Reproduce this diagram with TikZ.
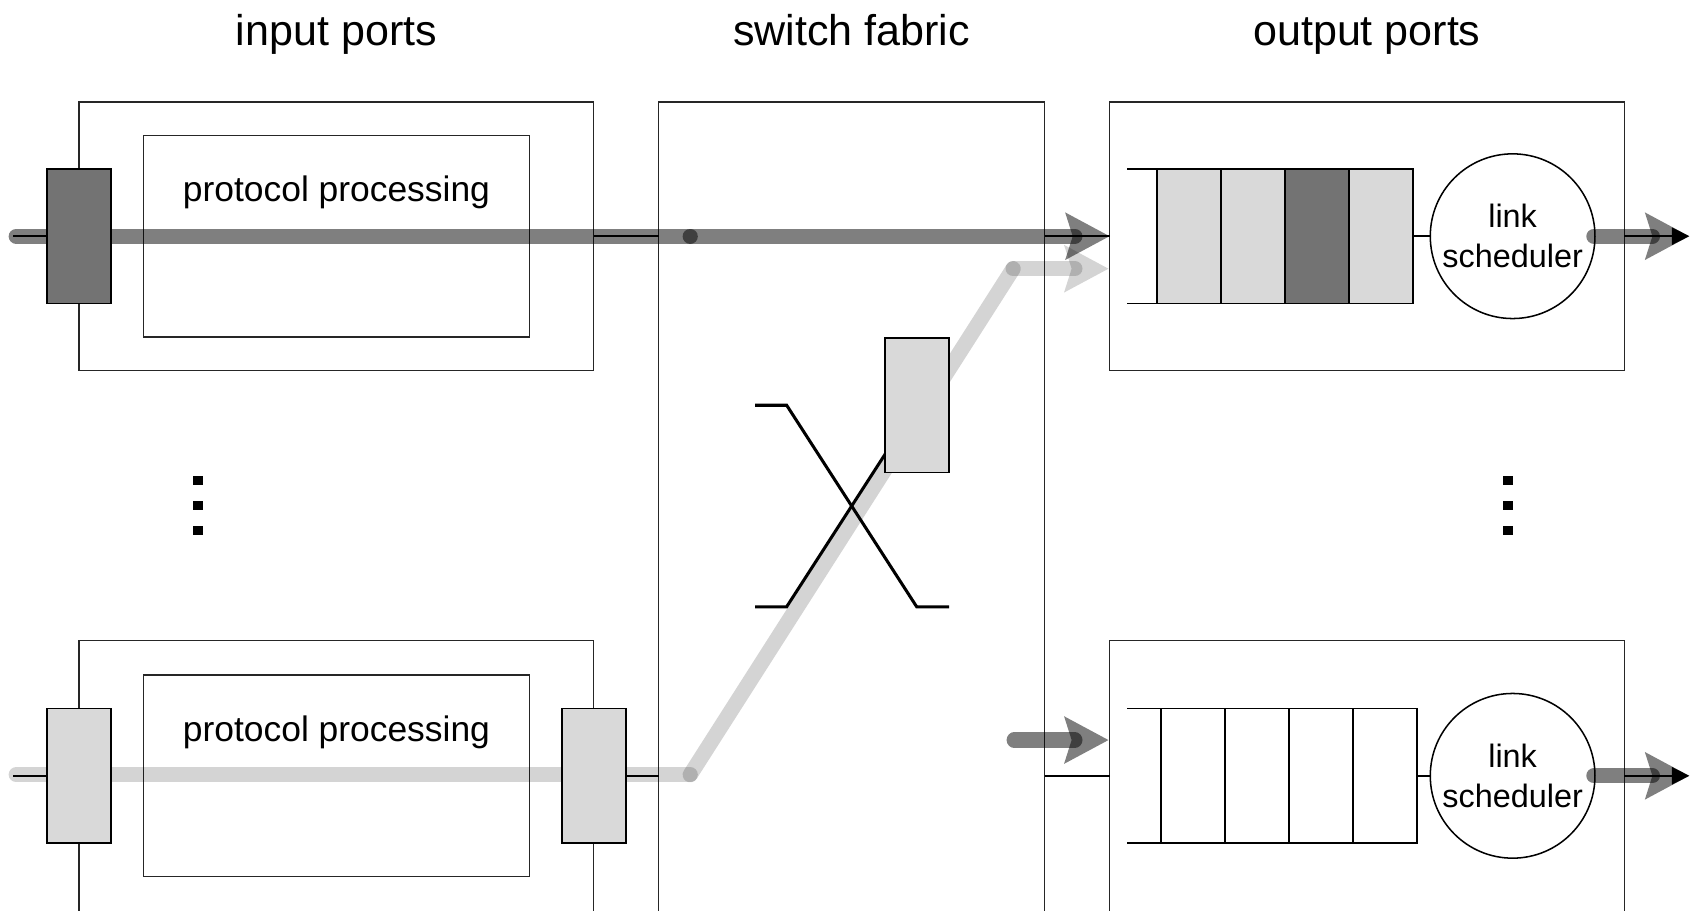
\documentclass[tikz,border=0pt]{standalone}
\usepackage{fontspec}
\setmainfont{Liberation Sans}
\usetikzlibrary{positioning,arrows.meta}

\definecolor{pktdark}{gray}{0.45}
\definecolor{pktlight}{gray}{0.85}

\begin{document}
\begin{tikzpicture}[x  = {(0.1mm,0mm)},
                    y  = {(0mm,-0.1mm)},
                    box/.style   = {draw=black!85, line width=0.35pt, inner sep=0pt, outer sep=0pt},
                    port/.style  = {draw, line width=0.45pt, inner sep=0pt, outer sep=0pt,
                                    minimum width=5.9mm, minimum height=12.4mm},
                    wire/.style  = {line width=0.4pt},
                    xbar/.style  = {line width=0.8pt},
                    heavy/.style = {line width=4pt, line cap=round, draw=black, draw opacity=0.5},
                    pale/.style  = {line width=4pt, line cap=round, draw=black, draw opacity=0.17},
                    heavyhead/.style = {fill=black, fill opacity=0.5},
                    palehead/.style  = {fill=black, fill opacity=0.17},
                    title/.style = {anchor=base, font=\fontsize{11.3}{13}\selectfont},
                    ptext/.style = {anchor=base, font=\fontsize{9.3}{11}\selectfont},
                    sched/.style = {draw, circle, line width=0.4pt, inner sep=0pt, minimum size=15.2mm,
                                    align=center, font=\fontsize{8.5}{10.5}\selectfont}]
\useasboundingbox (0,0) rectangle (1568,840);
\clip (0,0) rectangle (1568,840);

\node[title] (tin)  at (310.5,42) {input ports};
\node[title] (tsw)  at (786,42)   {switch fabric};
\node[title] (tout) at (1261.5,42) {output ports};

% input side
\node[box, minimum width=47.5mm, minimum height=24.8mm] (in1) at (310.5,218) {};
\node[box, minimum width=35.6mm, minimum height=18.6mm] (pp1) at (in1.center) {};
\node[ptext] (pp1t) at (310.5,186) {protocol processing};

\node[box, minimum width=47.5mm, minimum height=25mm] (in2) at (310.5,716) {};
\node[box, minimum width=35.6mm, minimum height=18.6mm] (pp2) at (in2.center) {};
\node[ptext] (pp2t) at (310.5,684) {protocol processing};

% fabric
\node[box, anchor=north west, minimum width=35.6mm, minimum height=80mm] (sf) at (608,94) {};
\draw[xbar] (697,374) -- (726,374) -- (846,560) -- (876,560);
\draw[xbar] (697,560) -- (726,560) -- (846,374) -- (876,374);

% output side
\node[box, minimum width=47.5mm, minimum height=24.8mm] (out1) at (1261.5,218) {};
\node[box, minimum width=47.5mm, minimum height=25mm] (out2) at (1261.5,716) {};

\node[port, fill=pktlight] (c1) at (1097.5,218) {};
\node[port, fill=pktlight, right=0pt of c1] (c2) {};
\node[port, fill=pktdark, right=0pt of c2] (c3) {};
\node[port, fill=pktlight, right=0pt of c3] (c4) {};
\draw[wire] (c1.north west) -- ++(-28,0);
\draw[wire] (c1.south west) -- ++(-28,0);
\node[sched] (ls1) at (1396,218) {link\\scheduler};
\draw[wire] (c4.east) -- (ls1.west);

\node[port, fill=white] (c5) at (1101,716) {};
\node[port, fill=white, right=0pt of c5] (c6) {};
\node[port, fill=white, right=0pt of c6] (c7) {};
\node[port, fill=white, right=0pt of c7] (c8) {};
\draw[wire] (c5.north west) -- ++(-31,0);
\draw[wire] (c5.south west) -- ++(-31,0);
\node[sched] (ls2) at (1396,716) {link\\scheduler};
\draw[wire] (c8.east) -- (ls2.west);

% thin links
\coordinate (l1) at (12,218);
\coordinate (l2) at (12,716);
\coordinate (o1) at (1559,218);
\coordinate (o2) at (1559,716);
\draw[wire] (l1) -- (in1.west);
\draw[wire] (in1.east) -- (in1.east -| sf.west);
\draw[wire] (sf.east |- out1.west) -- (out1.west);
\draw[wire] (l2) -- (in2.west);
\draw[wire] (in2.east) -- (in2.east -| sf.west);
\draw[wire] (sf.east |- out2.west) -- (out2.west);

% packet paths
\coordinate (a1) at (15,218);
\coordinate (j1) at (637,218);
\coordinate (e1) at (992,218);
\coordinate (a2) at (15,715);
\coordinate (j2) at (637,715);
\coordinate (k2) at (935,248);
\coordinate (e2) at (992,248);
\coordinate (t2) at (1023,248);
\coordinate (b3) at (936,683);
\coordinate (e3) at (992,683);
\coordinate (t3) at (1023,683);

\draw[heavy] (a1) -- (j1);
\draw[heavy] (j1) -- (e1);
\fill[heavyhead] (out1.west) -- ++(-41,-22) -- ++(7,22) -- ++(-7,22) -- cycle;

\draw[pale] (a2) -- (j2);
\draw[pale] (j2) -- (k2);
\draw[pale] (k2) -- (e2);
\fill[palehead] (t2) -- ++(-41,-22) -- ++(7,22) -- ++(-7,22) -- cycle;

\draw[heavy] (b3) -- (e3);
\fill[heavyhead] (t3) -- ++(-41,-22) -- ++(7,22) -- ++(-7,22) -- cycle;

\draw[heavy] (1471,218) -- (1525,218);
\fill[heavyhead] (o1) -- ++(-41,-22) -- ++(7,22) -- ++(-7,22) -- cycle;
\draw[heavy] (1471,716) -- (1525,716);
\fill[heavyhead] (o2) -- ++(-41,-22) -- ++(7,22) -- ++(-7,22) -- cycle;
\draw[wire, -{Triangle[length=1.6mm, width=1.6mm]}] (out1.east) -- (o1);
\draw[wire, -{Triangle[length=1.6mm, width=1.6mm]}] (out2.east) -- (o2);

% ports on top
\node[port, fill=pktdark] (p1) at (in1.west) {};
\node[port, fill=pktlight] (p2) at (in2.west) {};
\node[port, fill=pktlight] (p3) at (in2.east) {};
\node[port, fill=pktlight] (xq) at (846,374) {};

% dots
\fill (178,439) rectangle +(9,9);
\fill (178,462) rectangle +(9,9);
\fill (178,485) rectangle +(9,9);
\fill (1387,439) rectangle +(9,9);
\fill (1387,462) rectangle +(9,9);
\fill (1387,485) rectangle +(9,9);

\end{tikzpicture}
\end{document}
